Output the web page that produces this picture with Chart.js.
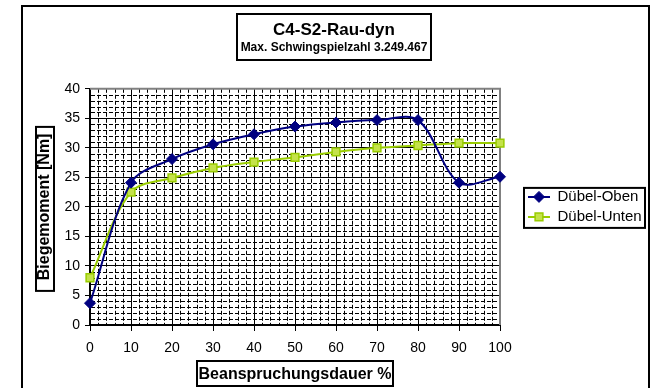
<!DOCTYPE html>
<html><head><meta charset="utf-8">
<script src="https://cdn.jsdelivr.net/npm/chart.js@4/dist/chart.umd.min.js"></script>
<style>html,body{margin:0;padding:0;background:#fff}</style>
</head><body>
<canvas id="c" width="655" height="388"></canvas>
<script>
const chartTitle = 'C4-S2-Rau-dyn';
const chartSubtitle = 'Max. Schwingspielzahl 3.249.467';
const xAxisTitle = 'Beanspruchungsdauer %';
const yAxisTitle = 'Biegemoment [Nm]';
const seriesNames = ['Dübel-Oben', 'Dübel-Unten'];
const xValues = [0, 10, 20, 30, 40, 50, 60, 70, 80, 90, 100];
const obenValues = [3.7, 24.1, 28.1, 30.6, 32.3, 33.6, 34.3, 34.7, 34.7, 24.1, 25.1];
const untenValues = [8.0, 22.5, 24.9, 26.6, 27.6, 28.4, 29.3, 30.0, 30.4, 30.8, 30.8];
const xTickValues = [0, 10, 20, 30, 40, 50, 60, 70, 80, 90, 100];
const yTickValues = [0, 5, 10, 15, 20, 25, 30, 35, 40];

const FONT = '"Liberation Sans", Arial, Helvetica, sans-serif';
const LEGEND_FONT = 15;
const LEGEND_PAD = 5, LEGEND_BOX = 22;
const PLOT_RIGHT = 500, LEGEND_LEFT = 523;
const toPts = vals => vals.map((v, i) => ({x: xValues[i], y: v}));

// legend width as Chart.js computes it, so the plot's right edge lands where the reference has it
const mctx = document.createElement('canvas').getContext('2d');
mctx.font = 'normal ' + LEGEND_FONT + 'px ' + FONT;
const legendTextW = Math.max(...seriesNames.map(n => mctx.measureText(n).width));
const legendW = LEGEND_PAD + LEGEND_BOX + LEGEND_FONT / 2 + legendTextW + 10;
const rightPad = Math.max(0, 655 - PLOT_RIGHT - legendW);

const decor = {
  id: 'decor',
  afterLayout(chart) {
    const lg = chart.legend;
    if (lg) { const d = LEGEND_LEFT - lg.left; lg.left += d; lg.right += d; }
    for (const b of chart.boxes) {
      if (b.options && (b.options.text === chartTitle || b.options.text === chartSubtitle) && b.position === 'top') {
        b.right = 655; b.width = b.right - b.left;
      }
    }
  },
  beforeDatasetsDraw(chart) {
    const {ctx, chartArea: a, scales: {x, y}} = chart;
    ctx.save();
    ctx.strokeStyle = '#000';
    ctx.lineWidth = 1;
    ctx.setLineDash([4, 2]);
    ctx.beginPath();
    const yMax = yTickValues[yTickValues.length - 1];
    for (let v = 1; v < yMax; v += 1) {
      if (v % 5 === 0) continue;
      const py = Math.round(y.getPixelForValue(v)) + 0.5;
      ctx.moveTo(a.left + 1, py); ctx.lineTo(a.right, py);
    }
    const xMax = xTickValues[xTickValues.length - 1];
    for (let v = 2; v < xMax; v += 2) {
      if (v % 10 === 0) continue;
      const px = Math.round(x.getPixelForValue(v)) + 0.5;
      ctx.moveTo(px, a.top); ctx.lineTo(px, a.bottom - 1);
    }
    ctx.stroke();
    ctx.setLineDash([]);
    ctx.strokeStyle = '#808080';
    ctx.lineWidth = 2;
    ctx.beginPath();
    ctx.moveTo(a.left, a.top); ctx.lineTo(a.right, a.top); ctx.lineTo(a.right, a.bottom);
    ctx.stroke();
    ctx.restore();
  },
  afterDraw(chart) {
    const {ctx, scales: {x, y}} = chart;
    ctx.save();
    ctx.strokeStyle = '#000';
    ctx.lineWidth = 2;
    ctx.strokeRect(22, 6, 627, 400);
    const tb = chart.titleBlock;
    const tcx = (tb.left + tb.right) / 2;
    ctx.strokeRect(tcx - 97, 14, 194, 46);
    const xcx = (x.left + x.right) / 2;
    ctx.strokeRect(xcx - 98, 361, 196, 25);
    const ycy = (y.top + y.bottom) / 2;
    ctx.strokeRect(36, ycy - 80, 18, 164);
    const lg = chart.legend;
    const hbs = lg.legendHitBoxes;
    if (hbs && hbs.length) {
      const first = hbs[0], last = hbs[hbs.length - 1];
      const bl = first.left - 4, bt = first.top - 1.5;
      ctx.strokeRect(bl, bt, 645 - bl, (last.top + last.height + 3.5) - bt);
      hbs.forEach((hb, i) => {
        const ds = chart.data.datasets[i];
        ctx.fillStyle = ds.pointBackgroundColor;
        ctx.strokeStyle = ds.pointBorderColor;
        ctx.lineWidth = ds.pointBorderWidth;
        Chart.helpers.drawPoint(ctx, {pointStyle: ds.pointStyle, radius: ds.pointRadius, rotation: 0, borderWidth: ds.pointBorderWidth}, hb.left + LEGEND_BOX / 2, hb.top + LEGEND_FONT / 2);
      });
    }
    ctx.restore();
  }
};

new Chart(document.getElementById('c'), {
  type: 'line',
  data: {
    datasets: [
      {
        label: seriesNames[0],
        data: toPts(obenValues),
        borderColor: '#000080', backgroundColor: '#000080',
        borderWidth: 2, tension: 0.33,
        pointStyle: 'rectRot', pointRadius: 5.5,
        pointBackgroundColor: '#000080', pointBorderColor: '#000080', pointBorderWidth: 1,
        clip: false
      },
      {
        label: seriesNames[1],
        data: toPts(untenValues),
        borderColor: '#99CC00', backgroundColor: '#99CC00',
        borderWidth: 2, tension: 0.33,
        pointStyle: 'rect', pointRadius: 5.5,
        pointBackgroundColor: '#C4E24A', pointBorderColor: '#99CC00', pointBorderWidth: 1.5,
        clip: false
      }
    ]
  },
  options: {
    responsive: false,
    animation: false,
    devicePixelRatio: 1,
    layout: {padding: {left: 13, right: rightPad, top: 0, bottom: 0}},
    scales: {
      x: {
        type: 'linear', position: 'bottom', min: 0, max: 100,
        afterBuildTicks: s => { s.ticks = xTickValues.map(v => ({value: v})); },
        afterFit: s => { s.height = 63; },
        ticks: {color: '#000', font: {family: FONT, size: 14}, padding: 9, maxRotation: 0, autoSkip: false},
        grid: {color: '#000', lineWidth: 1, tickLength: 6, tickColor: '#000', tickWidth: 1},
        border: {color: '#000', width: 2},
        title: {display: true, text: xAxisTitle, color: '#000', font: {family: FONT, size: 16, weight: 'bold'}, padding: {top: 0, bottom: 3.4}}
      },
      y: {
        type: 'linear', position: 'left', min: 0, max: 40,
        afterBuildTicks: s => { s.ticks = yTickValues.map(v => ({value: v})); },
        afterFit: s => { s.width = 77; },
        ticks: {color: '#000', font: {family: FONT, size: 14}, padding: 5},
        grid: {color: '#000', lineWidth: 1, tickLength: 5, tickColor: '#000', tickWidth: 1},
        border: {color: '#000', width: 2},
        title: {display: true, text: yAxisTitle, color: '#000', font: {family: FONT, size: 16, weight: 'bold'}, padding: {top: 22.4, bottom: 0}}
      }
    },
    plugins: {
      title: {display: true, text: chartTitle, color: '#000', font: {family: FONT, size: 17, weight: 'bold'}, padding: {top: 20, bottom: 0}},
      subtitle: {display: true, text: chartSubtitle, color: '#000', font: {family: FONT, size: 12, weight: 'bold'}, padding: {top: 0, bottom: 34}},
      legend: {
        display: true, position: 'right', align: 'center', fullSize: false,
        labels: {
          color: '#000', font: {family: FONT, size: LEGEND_FONT}, boxWidth: LEGEND_BOX, boxHeight: 2, padding: LEGEND_PAD,
          generateLabels: chart => Chart.defaults.plugins.legend.labels.generateLabels(chart).map(it => Object.assign(it, {fillStyle: it.strokeStyle, lineWidth: 0}))
        }
      },
      tooltip: {enabled: false}
    }
  },
  plugins: [decor]
});
</script>
</body></html>
